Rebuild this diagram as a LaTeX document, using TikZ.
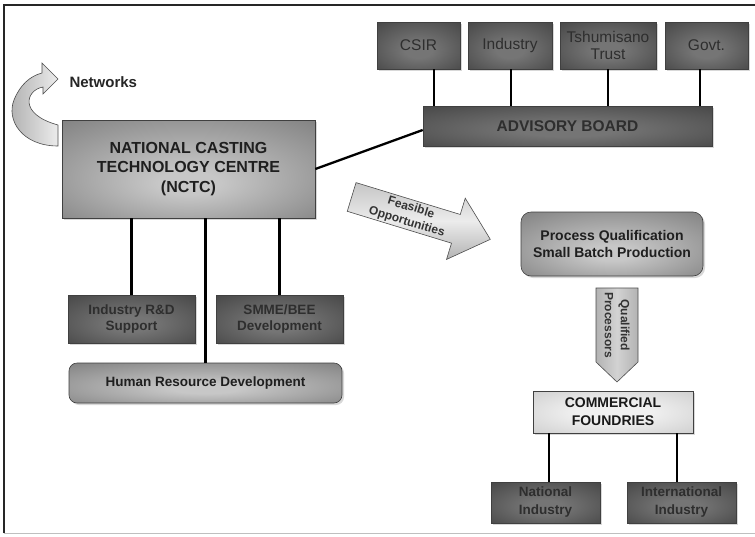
\documentclass[tikz,border=0pt]{standalone}
\usepackage{fontspec}
\setmainfont{Liberation Sans}
\usetikzlibrary{shadows}
\definecolor{dkout}{gray}{0.2}
\definecolor{dkin}{gray}{0.46}
\definecolor{dktext}{gray}{0.18}
\definecolor{mdout}{gray}{0.40}
\definecolor{mdin}{gray}{0.78}
\definecolor{ltout}{gray}{0.74}
\definecolor{ltin}{gray}{0.94}
\pgfdeclareradialshading{glowdark}{\pgfpoint{0bp}{-6bp}}{color(0bp)=(dkin); color(8bp)=(dkin); color(50bp)=(dkout)}
\pgfdeclareradialshading{glowmid}{\pgfpoint{0bp}{-8bp}}{color(0bp)=(mdin); color(6bp)=(mdin); color(50bp)=(mdout)}
\pgfdeclareradialshading{glowlight}{\pgfpoint{0bp}{0bp}}{color(0bp)=(ltin); color(12bp)=(ltin); color(50bp)=(ltout)}
\begin{document}
\begin{tikzpicture}[x=1pt,y=-1pt,
  conn/.style={line width=2.3pt, black},
  base/.style={inner sep=1pt, align=center, draw=black!75, line width=0.6pt,
    drop shadow={opacity=0.3, shadow xshift=2pt, shadow yshift=-2pt}},
  darkbox/.style={base, shade, shading=glowdark, text=dktext},
  midbox/.style={base, shade, shading=glowmid, text=black!88},
  lightbox/.style={base, shade, shading=glowlight, text=black!90},
  member/.style={darkbox, font=\fontsize{15.5}{17}\selectfont, minimum height=47pt},
  wing/.style={darkbox, font=\bfseries\fontsize{13.5}{16}\selectfont, minimum width=127pt, minimum height=48pt},
  outlet/.style={darkbox, font=\bfseries\fontsize{13.5}{18}\selectfont, minimum width=109pt, minimum height=41pt},
  blockarrow/.style={draw=black!70, line width=0.6pt},
  arrowtext/.style={font=\bfseries\fontsize{12}{14}\selectfont, text=black!80, inner sep=0pt}
]
\useasboundingbox (0,0) rectangle (755,536);
\fill[white] (0,0) rectangle (755,536);
% frame
\draw[black!85, line width=1.6pt] (4,533) -- (4,5) -- (755,5);
\draw[black!25, line width=1pt] (4,533.5) -- (755,533.5);

% Networks curved arrow
\path[blockarrow, left color=gray!65, right color=gray!15]
  (58,146) .. controls (22,146) and (6,120) .. (14,100)
  .. controls (20,85) and (30,76) .. (42,73)
  -- (42,63) -- (58,79) -- (43,94) -- (43,87)
  .. controls (26,90) and (18,114) .. (58,125) -- cycle;
\node[anchor=west, font=\bfseries\fontsize{15}{17}\selectfont, text=black!85] (net) at (66,82) {Networks};

% top members
\node[member, minimum width=83pt] (csir) at (418.5,45.5) {CSIR};
\node[member, minimum width=84pt] (ind) at (510,45.5) {Industry};
\node[member, minimum width=96pt] (tsh) at (608,45.5) {Tshumisano\\Trust};
\node[member, minimum width=83pt] (gov) at (706.5,45.5) {Govt.};
\node[darkbox, font=\bfseries\fontsize{15.5}{17}\selectfont, minimum width=289pt, minimum height=40pt] (adv) at (567.5,126) {ADVISORY BOARD};

% NCTC
\node[midbox, font=\bfseries\fontsize{16}{19.5}\selectfont, minimum width=253pt, minimum height=98pt] (nctc) at (188.5,169) {NATIONAL CASTING\\TECHNOLOGY CENTRE\\(NCTC)};

% lower left
\node[wing] (rd) at (131.5,319) {Industry R\&D\\Support};
\node[wing] (smme) at (279.5,319) {SMME/BEE\\Development};
\node[midbox, rounded corners=8pt, font=\bfseries\fontsize{13.5}{16}\selectfont, minimum width=273pt, minimum height=40pt] (hrd) at (205.5,383) {Human Resource Development};

% right column
\node[midbox, rounded corners=10pt, font=\bfseries\fontsize{14}{17}\selectfont, minimum width=182pt, minimum height=64pt] (pq) at (612,244) {Process Qualification\\Small Batch Production};
\node[lightbox, font=\bfseries\fontsize{14}{18}\selectfont, minimum width=160pt, minimum height=42pt] (cf) at (613,412) {COMMERCIAL\\FOUNDRIES};
\node[outlet] (nat) at (545.5,502.5) {National\\Industry};
\node[outlet] (intl) at (681.5,502.5) {International\\Industry};

% connectors
\draw[conn] (csir.south -| 434,0) -- (adv.north -| 434,0);
\draw[conn] (ind.south -| 511,0) -- (adv.north -| 511,0);
\draw[conn] (tsh.south) -- (tsh.south |- adv.north);
\draw[conn] (gov.south -| 700,0) -- (adv.north -| 700,0);
\draw[conn] (nctc.east) -- ([yshift=-4pt]adv.west);
\draw[conn] (rd.north |- nctc.south) -- (rd.north);
\draw[conn] (smme.north |- nctc.south) -- (smme.north);
\draw[conn] (hrd.north |- nctc.south) -- (hrd.north);
\draw[conn] (cf.south -| 549,0) -- (nat.north -| 549,0);
\draw[conn] (cf.south -| 677,0) -- (intl.north -| 677,0);

% Feasible Opportunities arrow
\begin{scope}[shift={(420.5,218)}, rotate=-17]
  \path[blockarrow, top color=gray!45, bottom color=gray!60, middle color=gray!15]
    (-72,-15) -- (37,-15) -- (37,-32) -- (73,0) -- (37,32) -- (37,15) -- (-72,15) -- cycle;
  \node[arrowtext, rotate=-17] (feas1) at (-12,-8) {Feasible};
  \node[arrowtext, rotate=-17] (feas2) at (-12,8) {Opportunities};
\end{scope}

% Qualified Processors arrow
\path[blockarrow, left color=gray!60, right color=gray!60, middle color=gray!35]
  (596,288) -- (638,288) -- (638,362) -- (617,382) -- (596,362) -- cycle;
\node[arrowtext, rotate=-90] (qp1) at (624,325) {Qualified};
\node[arrowtext, rotate=-90] (qp2) at (609,325) {Processors};
\end{tikzpicture}
\end{document}
